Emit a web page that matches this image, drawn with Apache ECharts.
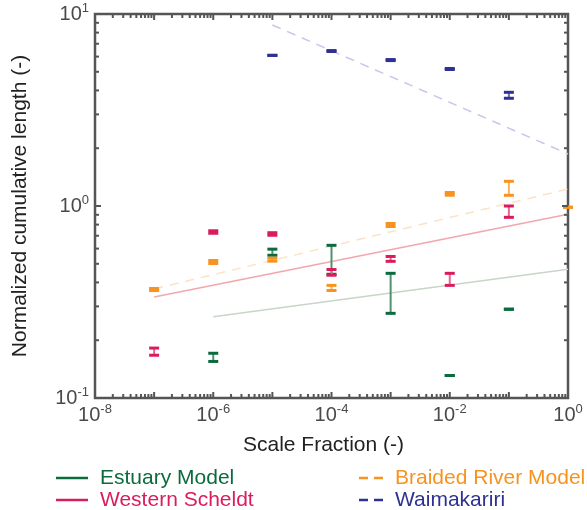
<!DOCTYPE html>
<html><head><meta charset="utf-8">
<script src="https://cdn.jsdelivr.net/npm/echarts@6/dist/echarts.min.js"></script>
<style>html,body{margin:0;padding:0;background:#fff}#c{width:587px;height:510px}</style>
</head><body><div id="c"></div>
<script>
// ---- data ----
const estuaryX = [1e-6, 1e-5, 1e-4, 1e-3, 1e-2, 1e-1];
const estuaryLow = [0.155, 0.554, 0.441, 0.276, 0.131, 0.290];
const estuaryHigh = [0.171, 0.596, 0.624, 0.446, 0.131, 0.290];

const westernX = [1e-7, 1e-6, 1e-5, 1e-4, 1e-3, 1e-2, 1e-1];
const westernLow = [0.167, 0.721, 0.704, 0.436, 0.515, 0.386, 0.873];
const westernHigh = [0.182, 0.743, 0.726, 0.467, 0.546, 0.446, 1.0];

const braidedX = [1e-7, 1e-6, 1e-5, 1e-4, 1e-3, 1e-2, 1e-1, 1e0];
const braidedLow = [0.363, 0.502, 0.516, 0.363, 0.782, 1.138, 1.137, 0.985];
const braidedHigh = [0.372, 0.520, 0.535, 0.386, 0.811, 1.176, 1.345, 0.985];

const waimaX = [1e-5, 1e-4, 1e-3, 1e-2, 1e-1];
const waimaLow = [6.09, 6.38, 5.72, 5.14, 3.64];
const waimaHigh = [6.09, 6.45, 5.79, 5.20, 3.91];

const estuaryFitX = [1e-6, 1], estuaryFitY = [0.265, 0.468];
const westernFitX = [1e-7, 1], westernFitY = [0.336, 0.905];
const braidedFitX = [1e-7, 1], braidedFitY = [0.370, 1.226];
const waimaFitX = [1e-5, 1], waimaFitY = [8.77, 1.866];

const xDecades = [-8, -7, -6, -5, -4, -3, -2, -1, 0];
const yDecades = [-1, 0, 1];
const mantissas = [2, 3, 4, 5, 6, 7, 8, 9];

const names = ['Estuary Model', 'Western Scheldt', 'Braided River Model', 'Waimakariri'];
const colors = ['#0c6b3d', '#da1c5c', '#f7931e', '#2e3192'];
const stemColors = ['#4f9270', '#e8668f', '#f9b35f', '#6d6fb5'];
const fitColors = ['#c8d6c8', '#f2a7ad', '#fde2c6', '#c9c7ea'];

// ---- helpers ----
const zip3 = (x, a, b) => x.map((v, i) => [v, a[i], b[i]]);
const zip2 = (x, a) => x.map((v, i) => [v, a[i]]);

function errRender(ci) {
  return function (params, api) {
    const x = api.value(0), lo = api.value(1), hi = api.value(2);
    const pHi = api.coord([x, hi]), pLo = api.coord([x, lo]);
    const w = 10, h = 3;
    const ch = [];
    if (Math.abs(pLo[1] - pHi[1]) > 3) {
      ch.push({type: 'line', shape: {x1: pHi[0], y1: pHi[1], x2: pLo[0], y2: pLo[1]},
        style: {stroke: stemColors[ci], lineWidth: 2}});
    }
    ch.push({type: 'rect', shape: {x: pHi[0] - w / 2, y: pHi[1] - h / 2, width: w, height: h}, style: {fill: colors[ci]}});
    ch.push({type: 'rect', shape: {x: pLo[0] - w / 2, y: pLo[1] - h / 2, width: w, height: h}, style: {fill: colors[ci]}});
    return {type: 'group', children: ch};
  };
}

// tick values
const xTicks = [], yTicks = [];
xDecades.forEach(d => { xTicks.push([Math.pow(10, d), 1]); if (d < 0) mantissas.forEach(m => xTicks.push([m * Math.pow(10, d), 0])); });
yDecades.forEach(d => { yTicks.push([Math.pow(10, d), 1]); if (d < 1) mantissas.forEach(m => yTicks.push([m * Math.pow(10, d), 0])); });

const XMIN = 1e-8, XMAX = 1, YMIN = 0.1, YMAX = 10;
const tickColor = '#555';

function xTickRender(params, api) {
  const v = api.value(0), major = api.value(2);
  const len = major ? 6 : 4;
  const b = api.coord([v, YMIN]), t = api.coord([v, YMAX]);
  return {type: 'group', children: [
    {type: 'line', shape: {x1: b[0], y1: b[1], x2: b[0], y2: b[1] - len}, style: {stroke: tickColor, lineWidth: 2}},
    {type: 'line', shape: {x1: t[0], y1: t[1], x2: t[0], y2: t[1] + len}, style: {stroke: tickColor, lineWidth: 2}}
  ]};
}
function yTickRender(params, api) {
  const v = api.value(1), major = api.value(2);
  const len = major ? 6 : 4;
  const l = api.coord([XMIN, v]), r = api.coord([XMAX, v]);
  return {type: 'group', children: [
    {type: 'line', shape: {x1: l[0], y1: l[1], x2: l[0] + len, y2: l[1]}, style: {stroke: tickColor, lineWidth: 2}},
    {type: 'line', shape: {x1: r[0], y1: r[1], x2: r[0] - len, y2: r[1]}, style: {stroke: tickColor, lineWidth: 2}}
  ]};
}

function powLabel(value) {
  const e = Math.round(Math.log10(value));
  return '{b|10}{s|' + e + '}';
}
const labelRich = {
  b: {fontSize: 20, fontFamily: 'Liberation Sans', color: '#4a4a4a', lineHeight: 24},
  s: {fontSize: 13, fontFamily: 'Liberation Sans', color: '#4a4a4a', verticalAlign: 'top', lineHeight: 13}
};

const fits = [[estuaryFitX, estuaryFitY], [westernFitX, westernFitY], [braidedFitX, braidedFitY], [waimaFitX, waimaFitY]];
const errs = [zip3(estuaryX, estuaryLow, estuaryHigh), zip3(westernX, westernLow, westernHigh),
              zip3(braidedX, braidedLow, braidedHigh), zip3(waimaX, waimaLow, waimaHigh)];

const series = [];
fits.forEach((f, i) => {
  series.push({type: 'line', name: names[i], data: zip2(f[0], f[1]), showSymbol: false, silent: true, z: 1,
    lineStyle: {color: fitColors[i], width: 1.5, type: i >= 2 ? [9, 7] : 'solid'}, itemStyle: {color: colors[i]}});
});
errs.forEach((d, i) => {
  series.push({type: 'custom', name: names[i], data: d, renderItem: errRender(i), z: 3, clip: false,
    itemStyle: {color: colors[i]}, encode: {x: 0, y: [1, 2]}});
});
series.push({type: 'custom', data: xTicks.map(t => [t[0], 1, t[1]]), renderItem: xTickRender, z: 5, silent: true, clip: false,
  encode: {x: 0, y: 1}});
series.push({type: 'custom', data: yTicks.map(t => [1e-4, t[0], t[1]]), renderItem: yTickRender, z: 5, silent: true, clip: false,
  encode: {x: 0, y: 1}});

const solidIcon = 'path://M0,0H32V2.5H0Z';
const dashIcon = 'path://M0,0H9V2.5H0Z M15,0H24V2.5H15Z';
const legendText = {fontSize: 21, fontFamily: 'Liberation Sans', lineHeight: 22, padding: [0, 0, 0, 7]};

const option = {
  animation: false,
  backgroundColor: '#fff',
  grid: {left: 95, right: 19, top: 14, bottom: 112, show: true, borderColor: '#555', borderWidth: 2.5, backgroundColor: 'transparent'},
  xAxis: {
    type: 'log', logBase: 10, min: XMIN, max: XMAX, interval: 2,
    axisLine: {show: false}, axisTick: {show: false}, splitLine: {show: false}, minorTick: {show: false},
    axisLabel: {formatter: powLabel, rich: labelRich, margin: 5},
    name: 'Scale Fraction (-)', nameLocation: 'middle', nameGap: 37,
    nameTextStyle: {fontSize: 21, fontFamily: 'Liberation Sans', color: '#222', padding: [0, 16, 0, 0]}
  },
  yAxis: {
    type: 'log', logBase: 10, min: YMIN, max: YMAX, interval: 1,
    axisLine: {show: false}, axisTick: {show: false}, splitLine: {show: false}, minorTick: {show: false},
    axisLabel: {formatter: powLabel, rich: labelRich, margin: 6},
    name: 'Normalized cumulative length (-)', nameLocation: 'middle', nameGap: 64,
    nameTextStyle: {fontSize: 21, fontFamily: 'Liberation Sans', color: '#222'}
  },
  legend: [
    {orient: 'vertical', left: 56, top: 467, height: 50, padding: 0, itemWidth: 32, itemHeight: 2.5, itemGap: 0, selectedMode: false,
      data: [
        {name: names[0], icon: solidIcon, itemStyle: {color: colors[0]}, textStyle: Object.assign({color: colors[0]}, legendText)},
        {name: names[1], icon: solidIcon, itemStyle: {color: colors[1]}, textStyle: Object.assign({color: colors[1]}, legendText)}
      ]},
    {orient: 'vertical', left: 359, top: 467, height: 50, padding: 0, itemWidth: 24, itemHeight: 2.5, itemGap: 0, selectedMode: false,
      data: [
        {name: names[2], icon: dashIcon, itemStyle: {color: colors[2]}, textStyle: Object.assign({color: colors[2]}, legendText)},
        {name: names[3], icon: dashIcon, itemStyle: {color: colors[3]}, textStyle: Object.assign({color: colors[3]}, legendText)}
      ]}
  ],
  series: series
};
const chart = echarts.init(document.getElementById('c'), null, {renderer: 'canvas'});
chart.setOption(option);
</script></body></html>
